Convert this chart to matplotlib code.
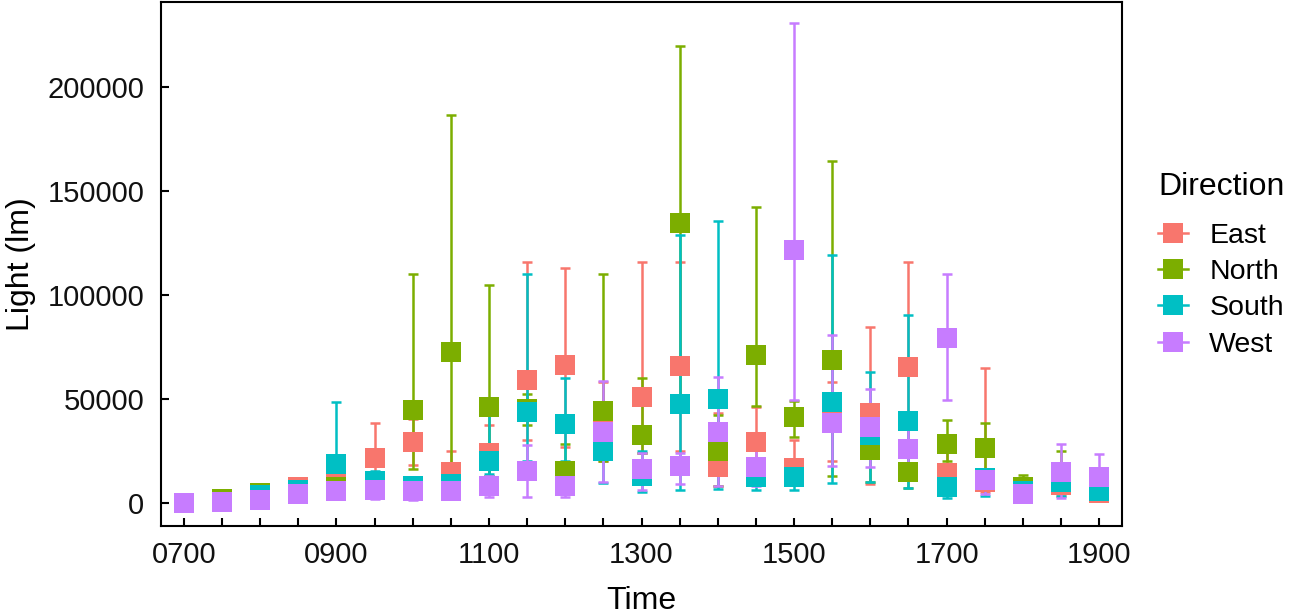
import matplotlib
matplotlib.use("Agg")
import matplotlib.pyplot as plt
from matplotlib.lines import Line2D
import numpy as np

plt.rcParams['font.family'] = ['Liberation Sans', 'DejaVu Sans']

# time slots, every half hour 0700 .. 1900
times = ['0700', '0730', '0800', '0830', '0900', '0930', '1000', '1030', '1100',
         '1130', '1200', '1230', '1300', '1330', '1400', '1430', '1500', '1530',
         '1600', '1630', '1700', '1730', '1800', '1830', '1900']

directions = ['East', 'North', 'South', 'West']
colors = ['#F8766D', '#7CAE00', '#00BFC4', '#C77CFF']

east_mean = [0, 500, 3500, 7600, 9700, 21400, 29100, 14700, 23700, 59200, 66100, 34900, 50700,
             66000, 17200, 29400, 16600, 39300, 43200, 65300, 14000, 10000, 5000, 8600, 4800]
east_lo = [0, 0, 1000, 4000, 4000, 12000, 18000, 8000, 13000, 30000, 26900, 20000, 24000,
           25000, 7900, 18000, 9000, 20000, 8900, 30000, 6000, 5200, 2000, 3000, 1500]
east_hi = [0, 1000, 6000, 11000, 14000, 38400, 40000, 25000, 37300, 115800, 112900, 58000, 115800,
           115800, 42900, 46000, 30000, 58100, 84600, 115800, 25000, 64800, 8000, 15000, 8000]

north_mean = [0, 1500, 4500, 6000, 7300, 8000, 44800, 72500, 46100, 45000, 15100, 44000, 32500,
              134800, 24900, 70900, 41300, 68800, 25200, 14700, 28000, 26500, 7600, 12000, 8000]
north_lo = [0, 500, 3000, 4000, 5000, 5000, 16100, 5000, 13000, 37300, 6000, 20000, 24000,
            50000, 8000, 46400, 31700, 12700, 10000, 7000, 20000, 16000, 5000, 6000, 4000]
north_hi = [0, 2500, 6000, 8000, 10000, 12000, 110000, 186700, 104900, 52200, 28000, 109900, 60200,
            219700, 42000, 142500, 49000, 164600, 40000, 22000, 39700, 38400, 13200, 24800, 11000]

south_mean = [0, 500, 3750, 6000, 18800, 10200, 7800, 8900, 20100, 43700, 37700, 24600, 12900,
              47700, 49900, 12100, 12400, 48200, 32600, 39200, 7300, 11600, 5500, 9700, 5500]
south_lo = [0, 0, 2000, 3500, 8000, 6000, 4000, 5000, 13900, 20000, 20000, 9200, 5200,
            6000, 6500, 6000, 6000, 9500, 10000, 7100, 2000, 3000, 3000, 3000, 1500]
south_hi = [0, 1000, 5500, 9000, 48300, 15000, 12000, 14000, 42000, 109900, 60000, 40000, 25000,
            128700, 135500, 20000, 20000, 119000, 62800, 90500, 15000, 16000, 8000, 16000, 9000]

west_mean = [0, 500, 1200, 4200, 5700, 6000, 5700, 5700, 8100, 15000, 8100, 33900, 16300,
             17600, 33900, 16900, 121800, 38200, 36500, 25700, 79400, 10800, 4100, 14500, 12300]
west_lo = [0, 0, 0, 1000, 1500, 1500, 1000, 1500, 2600, 2600, 2800, 10000, 6000,
           9000, 7900, 8000, 49300, 17600, 17000, 15000, 49300, 4000, 1000, 2100, 2000]
west_hi = [0, 1000, 2500, 7000, 9000, 10000, 10000, 10000, 13000, 27700, 14000, 58400, 24000,
           23800, 60500, 28000, 230800, 80600, 54900, 38000, 109900, 16000, 7000, 28000, 23300]

series = [(east_mean, east_lo, east_hi), (north_mean, north_lo, north_hi),
          (south_mean, south_lo, south_hi), (west_mean, west_lo, west_hi)]

fig = plt.figure(figsize=(12.99, 6.16), dpi=100)
ax = fig.add_axes([161 / 1299, 1 - 526 / 616, 961 / 1299, 524 / 616])

x = np.arange(len(times))
# error bars first, then all the squares on top
for (m, lo, hi), c in zip(series, colors):
    m = np.array(m); lo = np.array(lo); hi = np.array(hi)
    ax.errorbar(x, m, yerr=[m - lo, hi - m], fmt='none', ecolor=c,
                elinewidth=1.8, capsize=3.3, capthick=1.8, zorder=2)
for (m, lo, hi), c in zip(series, colors):
    ax.plot(x, m, 's', color=c, markersize=14, markeredgewidth=0, zorder=3)

ax.set_xlim(-0.6, 24.6)
ax.set_ylim(-11300, 241100)
ax.set_xticks(x)
ax.set_xticklabels([t if i % 4 == 0 else '' for i, t in enumerate(times)])
ax.set_yticks([0, 50000, 100000, 150000, 200000])
ax.set_yticklabels(['0', '50000', '100000', '150000', '200000'])

for s in ax.spines.values():
    s.set_linewidth(1.5)
    s.set_color('black')
ax.tick_params(direction='in', length=5.5, width=1.5, colors='black',
               labelsize=21, labelcolor='#111111')
ax.tick_params(axis='x', pad=11)
ax.tick_params(axis='y', pad=12)

ax.set_xlabel('Time', fontsize=23, labelpad=12)
ax.set_ylabel('Light (lm)', fontsize=23)
ax.yaxis.set_label_coords((36 - 161) / 961, 0.5)

handles = [Line2D([], [], color=c, marker='s', markersize=14, markeredgewidth=0,
                  linewidth=1.8) for c in colors]
leg = ax.legend(handles, directions, title='Direction', frameon=False,
                loc='upper left', bbox_to_anchor=(1158 / 1299, 1 - 172 / 616),
                bbox_transform=fig.transFigure, fontsize=20.5, title_fontsize=23,
                handlelength=1.05, handletextpad=0.75, labelspacing=0.36,
                borderpad=0, borderaxespad=0, alignment='left')
leg._legend_box.sep = 15

fig.savefig('out.png', dpi=100)
